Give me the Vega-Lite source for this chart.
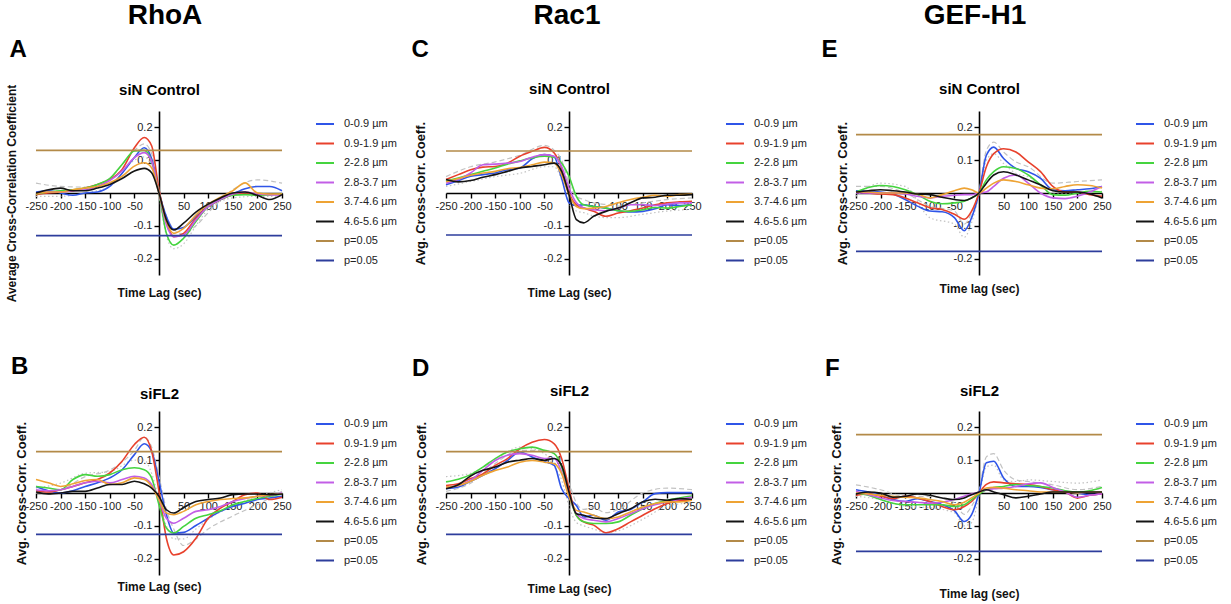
{
"$schema":"https://vega.github.io/schema/vega-lite/v6.json",
"background":"white",
"padding":{"left":5,"top":2,"right":2,"bottom":2},
"config":{
 "font":"Liberation Sans",
 "view":{"stroke":null},
 "axis":{"domainColor":"#000","domainWidth":1.6,"tickColor":"#000","tickWidth":1.4,"tickSize":5,"labelFontSize":11,"labelColor":"#222","labelPadding":2,"titleFontWeight":"bold","titleFontSize":12,"titleColor":"#111","titleBaseline":"middle","grid":false,"labelOverlap":false,"labelFlush":false,"labelBound":false},
 "legend":{"orient":"right","offset":26,"padding":3,"symbolType":"stroke","symbolSize":324,"symbolStrokeWidth":2,"labelFontSize":11,"labelColor":"#222","rowPadding":4.5,"labelOffset":9},
 "title":{"font":"Liberation Sans","fontWeight":"bold","color":"#000","frame":"group","baseline":"alphabetic"}
},
"datasets":{
"A":[
{"s":"0-0.9 µm","t":-250,"v":0.003},{"s":"0-0.9 µm","t":-225,"v":0.007},{"s":"0-0.9 µm","t":-200,"v":0},{"s":"0-0.9 µm","t":-175,"v":-0.007},{"s":"0-0.9 µm","t":-150,"v":0},{"s":"0-0.9 µm","t":-125,"v":0.003},{"s":"0-0.9 µm","t":-100,"v":0.02},{"s":"0-0.9 µm","t":-75,"v":0.06},{"s":"0-0.9 µm","t":-50,"v":0.108},{"s":"0-0.9 µm","t":-30,"v":0.138},{"s":"0-0.9 µm","t":-15,"v":0.105},{"s":"0-0.9 µm","t":0,"v":0.003},{"s":"0-0.9 µm","t":15,"v":-0.072},{"s":"0-0.9 µm","t":30,"v":-0.11},{"s":"0-0.9 µm","t":50,"v":-0.105},{"s":"0-0.9 µm","t":75,"v":-0.072},{"s":"0-0.9 µm","t":100,"v":-0.041},{"s":"0-0.9 µm","t":125,"v":-0.02},{"s":"0-0.9 µm","t":150,"v":-0.003},{"s":"0-0.9 µm","t":175,"v":0.013},{"s":"0-0.9 µm","t":200,"v":0.02},{"s":"0-0.9 µm","t":225,"v":0.02},{"s":"0-0.9 µm","t":250,"v":0.007},
{"s":"0.9-1.9 µm","t":-250,"v":-0.005},{"s":"0.9-1.9 µm","t":-225,"v":0},{"s":"0.9-1.9 µm","t":-200,"v":0.003},{"s":"0.9-1.9 µm","t":-175,"v":0.007},{"s":"0.9-1.9 µm","t":-150,"v":0.015},{"s":"0.9-1.9 µm","t":-125,"v":0.026},{"s":"0.9-1.9 µm","t":-100,"v":0.041},{"s":"0.9-1.9 µm","t":-75,"v":0.072},{"s":"0.9-1.9 µm","t":-50,"v":0.138},{"s":"0.9-1.9 µm","t":-30,"v":0.169},{"s":"0.9-1.9 µm","t":-15,"v":0.144},{"s":"0.9-1.9 µm","t":0,"v":0.01},{"s":"0.9-1.9 µm","t":15,"v":-0.087},{"s":"0.9-1.9 µm","t":30,"v":-0.133},{"s":"0.9-1.9 µm","t":50,"v":-0.123},{"s":"0.9-1.9 µm","t":75,"v":-0.077},{"s":"0.9-1.9 µm","t":100,"v":-0.041},{"s":"0.9-1.9 µm","t":125,"v":-0.02},{"s":"0.9-1.9 µm","t":150,"v":-0.005},{"s":"0.9-1.9 µm","t":175,"v":0},{"s":"0.9-1.9 µm","t":200,"v":-0.003},{"s":"0.9-1.9 µm","t":225,"v":-0.005},{"s":"0.9-1.9 µm","t":250,"v":-0.003},
{"s":"2-2.8 µm","t":-250,"v":-0.003},{"s":"2-2.8 µm","t":-225,"v":0.003},{"s":"2-2.8 µm","t":-200,"v":0.007},{"s":"2-2.8 µm","t":-175,"v":0.01},{"s":"2-2.8 µm","t":-150,"v":0.015},{"s":"2-2.8 µm","t":-125,"v":0.026},{"s":"2-2.8 µm","t":-100,"v":0.044},{"s":"2-2.8 µm","t":-75,"v":0.087},{"s":"2-2.8 µm","t":-50,"v":0.128},{"s":"2-2.8 µm","t":-30,"v":0.13},{"s":"2-2.8 µm","t":-15,"v":0.097},{"s":"2-2.8 µm","t":0,"v":0},{"s":"2-2.8 µm","t":15,"v":-0.123},{"s":"2-2.8 µm","t":30,"v":-0.159},{"s":"2-2.8 µm","t":50,"v":-0.138},{"s":"2-2.8 µm","t":75,"v":-0.087},{"s":"2-2.8 µm","t":100,"v":-0.041},{"s":"2-2.8 µm","t":125,"v":-0.02},{"s":"2-2.8 µm","t":150,"v":-0.007},{"s":"2-2.8 µm","t":175,"v":-0.005},{"s":"2-2.8 µm","t":200,"v":-0.007},{"s":"2-2.8 µm","t":225,"v":-0.005},{"s":"2-2.8 µm","t":250,"v":-0.003},
{"s":"2.8-3.7 µm","t":-250,"v":0},{"s":"2.8-3.7 µm","t":-225,"v":0.003},{"s":"2.8-3.7 µm","t":-200,"v":0.003},{"s":"2.8-3.7 µm","t":-175,"v":0.007},{"s":"2.8-3.7 µm","t":-150,"v":0.01},{"s":"2.8-3.7 µm","t":-125,"v":0.02},{"s":"2.8-3.7 µm","t":-100,"v":0.038},{"s":"2.8-3.7 µm","t":-75,"v":0.067},{"s":"2.8-3.7 µm","t":-50,"v":0.108},{"s":"2.8-3.7 µm","t":-30,"v":0.123},{"s":"2.8-3.7 µm","t":-15,"v":0.097},{"s":"2.8-3.7 µm","t":0,"v":0},{"s":"2.8-3.7 µm","t":15,"v":-0.097},{"s":"2.8-3.7 µm","t":30,"v":-0.133},{"s":"2.8-3.7 µm","t":50,"v":-0.128},{"s":"2.8-3.7 µm","t":75,"v":-0.082},{"s":"2.8-3.7 µm","t":100,"v":-0.041},{"s":"2.8-3.7 µm","t":125,"v":-0.02},{"s":"2.8-3.7 µm","t":150,"v":-0.003},{"s":"2.8-3.7 µm","t":175,"v":0.003},{"s":"2.8-3.7 µm","t":200,"v":-0.003},{"s":"2.8-3.7 µm","t":225,"v":-0.005},{"s":"2.8-3.7 µm","t":250,"v":-0.007},
{"s":"3.7-4.6 µm","t":-250,"v":-0.003},{"s":"3.7-4.6 µm","t":-225,"v":0.003},{"s":"3.7-4.6 µm","t":-200,"v":0.003},{"s":"3.7-4.6 µm","t":-175,"v":0.01},{"s":"3.7-4.6 µm","t":-150,"v":0.015},{"s":"3.7-4.6 µm","t":-125,"v":0.02},{"s":"3.7-4.6 µm","t":-100,"v":0.031},{"s":"3.7-4.6 µm","t":-75,"v":0.051},{"s":"3.7-4.6 µm","t":-50,"v":0.082},{"s":"3.7-4.6 µm","t":-30,"v":0.092},{"s":"3.7-4.6 µm","t":-15,"v":0.077},{"s":"3.7-4.6 µm","t":0,"v":0},{"s":"3.7-4.6 µm","t":15,"v":-0.087},{"s":"3.7-4.6 µm","t":30,"v":-0.123},{"s":"3.7-4.6 µm","t":50,"v":-0.108},{"s":"3.7-4.6 µm","t":75,"v":-0.067},{"s":"3.7-4.6 µm","t":100,"v":-0.034},{"s":"3.7-4.6 µm","t":125,"v":-0.013},{"s":"3.7-4.6 µm","t":150,"v":0.007},{"s":"3.7-4.6 µm","t":175,"v":0.031},{"s":"3.7-4.6 µm","t":200,"v":0},{"s":"3.7-4.6 µm","t":225,"v":-0.003},{"s":"3.7-4.6 µm","t":250,"v":-0.003},
{"s":"4.6-5.6 µm","t":-250,"v":0},{"s":"4.6-5.6 µm","t":-225,"v":0.01},{"s":"4.6-5.6 µm","t":-200,"v":0.015},{"s":"4.6-5.6 µm","t":-175,"v":0.007},{"s":"4.6-5.6 µm","t":-150,"v":0.007},{"s":"4.6-5.6 µm","t":-125,"v":0.015},{"s":"4.6-5.6 µm","t":-100,"v":0.026},{"s":"4.6-5.6 µm","t":-75,"v":0.044},{"s":"4.6-5.6 µm","t":-50,"v":0.067},{"s":"4.6-5.6 µm","t":-30,"v":0.075},{"s":"4.6-5.6 µm","t":-15,"v":0.062},{"s":"4.6-5.6 µm","t":0,"v":0},{"s":"4.6-5.6 µm","t":15,"v":-0.082},{"s":"4.6-5.6 µm","t":30,"v":-0.113},{"s":"4.6-5.6 µm","t":50,"v":-0.092},{"s":"4.6-5.6 µm","t":75,"v":-0.058},{"s":"4.6-5.6 µm","t":100,"v":-0.034},{"s":"4.6-5.6 µm","t":125,"v":-0.015},{"s":"4.6-5.6 µm","t":150,"v":0},{"s":"4.6-5.6 µm","t":175,"v":0.003},{"s":"4.6-5.6 µm","t":200,"v":-0.007},{"s":"4.6-5.6 µm","t":225,"v":-0.02},{"s":"4.6-5.6 µm","t":250,"v":-0.005},
{"s":"p=0.05 upper","t":-250,"v":0.13},{"s":"p=0.05 upper","t":250,"v":0.13},{"s":"p=0.05 lower","t":-250,"v":-0.13},{"s":"p=0.05 lower","t":250,"v":-0.13}
],
"B":[
{"s":"0-0.9 µm","t":-250,"v":0.02},{"s":"0-0.9 µm","t":-225,"v":0.007},{"s":"0-0.9 µm","t":-200,"v":0},{"s":"0-0.9 µm","t":-175,"v":0.007},{"s":"0-0.9 µm","t":-150,"v":0.02},{"s":"0-0.9 µm","t":-125,"v":0.031},{"s":"0-0.9 µm","t":-100,"v":0.046},{"s":"0-0.9 µm","t":-75,"v":0.071},{"s":"0-0.9 µm","t":-50,"v":0.117},{"s":"0-0.9 µm","t":-30,"v":0.15},{"s":"0-0.9 µm","t":-15,"v":0.128},{"s":"0-0.9 µm","t":0,"v":0.036},{"s":"0-0.9 µm","t":15,"v":-0.066},{"s":"0-0.9 µm","t":30,"v":-0.122},{"s":"0-0.9 µm","t":50,"v":-0.12},{"s":"0-0.9 µm","t":75,"v":-0.099},{"s":"0-0.9 µm","t":100,"v":-0.077},{"s":"0-0.9 µm","t":125,"v":-0.056},{"s":"0-0.9 µm","t":150,"v":-0.041},{"s":"0-0.9 µm","t":175,"v":-0.031},{"s":"0-0.9 µm","t":200,"v":-0.02},{"s":"0-0.9 µm","t":225,"v":-0.015},{"s":"0-0.9 µm","t":250,"v":-0.01},
{"s":"0.9-1.9 µm","t":-250,"v":0.007},{"s":"0.9-1.9 µm","t":-225,"v":0.003},{"s":"0.9-1.9 µm","t":-200,"v":0.01},{"s":"0.9-1.9 µm","t":-175,"v":0.02},{"s":"0.9-1.9 µm","t":-150,"v":0.031},{"s":"0.9-1.9 µm","t":-125,"v":0.041},{"s":"0.9-1.9 µm","t":-100,"v":0.061},{"s":"0.9-1.9 µm","t":-75,"v":0.097},{"s":"0.9-1.9 µm","t":-50,"v":0.148},{"s":"0.9-1.9 µm","t":-30,"v":0.17},{"s":"0.9-1.9 µm","t":-15,"v":0.128},{"s":"0.9-1.9 µm","t":0,"v":0.005},{"s":"0.9-1.9 µm","t":15,"v":-0.138},{"s":"0.9-1.9 µm","t":30,"v":-0.189},{"s":"0.9-1.9 µm","t":50,"v":-0.179},{"s":"0.9-1.9 µm","t":75,"v":-0.138},{"s":"0.9-1.9 µm","t":100,"v":-0.077},{"s":"0.9-1.9 µm","t":125,"v":-0.046},{"s":"0.9-1.9 µm","t":150,"v":-0.026},{"s":"0.9-1.9 µm","t":175,"v":-0.005},{"s":"0.9-1.9 µm","t":200,"v":0},{"s":"0.9-1.9 µm","t":225,"v":-0.02},{"s":"0.9-1.9 µm","t":250,"v":-0.013},
{"s":"2-2.8 µm","t":-250,"v":0.02},{"s":"2-2.8 µm","t":-225,"v":0.015},{"s":"2-2.8 µm","t":-200,"v":0.01},{"s":"2-2.8 µm","t":-175,"v":0.041},{"s":"2-2.8 µm","t":-150,"v":0.056},{"s":"2-2.8 µm","t":-125,"v":0.051},{"s":"2-2.8 µm","t":-100,"v":0.056},{"s":"2-2.8 µm","t":-75,"v":0.071},{"s":"2-2.8 µm","t":-50,"v":0.077},{"s":"2-2.8 µm","t":-30,"v":0.071},{"s":"2-2.8 µm","t":-15,"v":0.046},{"s":"2-2.8 µm","t":0,"v":-0.036},{"s":"2-2.8 µm","t":15,"v":-0.107},{"s":"2-2.8 µm","t":30,"v":-0.122},{"s":"2-2.8 µm","t":50,"v":-0.102},{"s":"2-2.8 µm","t":75,"v":-0.077},{"s":"2-2.8 µm","t":100,"v":-0.066},{"s":"2-2.8 µm","t":125,"v":-0.054},{"s":"2-2.8 µm","t":150,"v":-0.036},{"s":"2-2.8 µm","t":175,"v":-0.026},{"s":"2-2.8 µm","t":200,"v":-0.017},{"s":"2-2.8 µm","t":225,"v":-0.01},{"s":"2-2.8 µm","t":250,"v":-0.003},
{"s":"2.8-3.7 µm","t":-250,"v":0.01},{"s":"2.8-3.7 µm","t":-225,"v":0.007},{"s":"2.8-3.7 µm","t":-200,"v":0.01},{"s":"2.8-3.7 µm","t":-175,"v":0.02},{"s":"2.8-3.7 µm","t":-150,"v":0.031},{"s":"2.8-3.7 µm","t":-125,"v":0.036},{"s":"2.8-3.7 µm","t":-100,"v":0.031},{"s":"2.8-3.7 µm","t":-75,"v":0.041},{"s":"2.8-3.7 µm","t":-50,"v":0.051},{"s":"2.8-3.7 µm","t":-30,"v":0.046},{"s":"2.8-3.7 µm","t":-15,"v":0.026},{"s":"2.8-3.7 µm","t":0,"v":-0.02},{"s":"2.8-3.7 µm","t":15,"v":-0.077},{"s":"2.8-3.7 µm","t":30,"v":-0.092},{"s":"2.8-3.7 µm","t":50,"v":-0.077},{"s":"2.8-3.7 µm","t":75,"v":-0.056},{"s":"2.8-3.7 µm","t":100,"v":-0.051},{"s":"2.8-3.7 µm","t":125,"v":-0.041},{"s":"2.8-3.7 µm","t":150,"v":-0.026},{"s":"2.8-3.7 µm","t":175,"v":-0.017},{"s":"2.8-3.7 µm","t":200,"v":-0.01},{"s":"2.8-3.7 µm","t":225,"v":-0.007},{"s":"2.8-3.7 µm","t":250,"v":0},
{"s":"3.7-4.6 µm","t":-250,"v":0.041},{"s":"3.7-4.6 µm","t":-225,"v":0.031},{"s":"3.7-4.6 µm","t":-200,"v":0.02},{"s":"3.7-4.6 µm","t":-175,"v":0.028},{"s":"3.7-4.6 µm","t":-150,"v":0.038},{"s":"3.7-4.6 µm","t":-125,"v":0.041},{"s":"3.7-4.6 µm","t":-100,"v":0.026},{"s":"3.7-4.6 µm","t":-75,"v":0.031},{"s":"3.7-4.6 µm","t":-50,"v":0.046},{"s":"3.7-4.6 µm","t":-30,"v":0.041},{"s":"3.7-4.6 µm","t":-15,"v":0.02},{"s":"3.7-4.6 µm","t":0,"v":-0.02},{"s":"3.7-4.6 µm","t":15,"v":-0.061},{"s":"3.7-4.6 µm","t":30,"v":-0.066},{"s":"3.7-4.6 µm","t":50,"v":-0.056},{"s":"3.7-4.6 µm","t":75,"v":-0.036},{"s":"3.7-4.6 µm","t":100,"v":-0.026},{"s":"3.7-4.6 µm","t":125,"v":-0.02},{"s":"3.7-4.6 µm","t":150,"v":-0.017},{"s":"3.7-4.6 µm","t":175,"v":-0.015},{"s":"3.7-4.6 µm","t":200,"v":-0.01},{"s":"3.7-4.6 µm","t":225,"v":-0.005},{"s":"3.7-4.6 µm","t":250,"v":-0.003},
{"s":"4.6-5.6 µm","t":-250,"v":0.003},{"s":"4.6-5.6 µm","t":-225,"v":-0.003},{"s":"4.6-5.6 µm","t":-200,"v":0},{"s":"4.6-5.6 µm","t":-175,"v":0.005},{"s":"4.6-5.6 µm","t":-150,"v":0.005},{"s":"4.6-5.6 µm","t":-125,"v":0.015},{"s":"4.6-5.6 µm","t":-100,"v":0.026},{"s":"4.6-5.6 µm","t":-75,"v":0.026},{"s":"4.6-5.6 µm","t":-50,"v":0.036},{"s":"4.6-5.6 µm","t":-30,"v":0.028},{"s":"4.6-5.6 µm","t":-15,"v":0.015},{"s":"4.6-5.6 µm","t":0,"v":-0.01},{"s":"4.6-5.6 µm","t":15,"v":-0.051},{"s":"4.6-5.6 µm","t":30,"v":-0.061},{"s":"4.6-5.6 µm","t":50,"v":-0.044},{"s":"4.6-5.6 µm","t":75,"v":-0.026},{"s":"4.6-5.6 µm","t":100,"v":-0.02},{"s":"4.6-5.6 µm","t":125,"v":-0.015},{"s":"4.6-5.6 µm","t":150,"v":-0.005},{"s":"4.6-5.6 µm","t":175,"v":-0.003},{"s":"4.6-5.6 µm","t":200,"v":-0.003},{"s":"4.6-5.6 µm","t":225,"v":-0.005},{"s":"4.6-5.6 µm","t":250,"v":-0.003},
{"s":"p=0.05 upper","t":-250,"v":0.126},{"s":"p=0.05 upper","t":250,"v":0.126},{"s":"p=0.05 lower","t":-250,"v":-0.126},{"s":"p=0.05 lower","t":250,"v":-0.126}
],
"C":[
{"s":"0-0.9 µm","t":-250,"v":0.025},{"s":"0-0.9 µm","t":-225,"v":0.038},{"s":"0-0.9 µm","t":-200,"v":0.051},{"s":"0-0.9 µm","t":-175,"v":0.056},{"s":"0-0.9 µm","t":-150,"v":0.061},{"s":"0-0.9 µm","t":-125,"v":0.071},{"s":"0-0.9 µm","t":-100,"v":0.076},{"s":"0-0.9 µm","t":-75,"v":0.104},{"s":"0-0.9 µm","t":-50,"v":0.117},{"s":"0-0.9 µm","t":-30,"v":0.11},{"s":"0-0.9 µm","t":-15,"v":0.045},{"s":"0-0.9 µm","t":0,"v":-0.03},{"s":"0-0.9 µm","t":15,"v":-0.038},{"s":"0-0.9 µm","t":30,"v":-0.036},{"s":"0-0.9 µm","t":50,"v":-0.041},{"s":"0-0.9 µm","t":75,"v":-0.046},{"s":"0-0.9 µm","t":100,"v":-0.054},{"s":"0-0.9 µm","t":125,"v":-0.058},{"s":"0-0.9 µm","t":150,"v":-0.056},{"s":"0-0.9 µm","t":175,"v":-0.048},{"s":"0-0.9 µm","t":200,"v":-0.036},{"s":"0-0.9 µm","t":225,"v":-0.038},{"s":"0-0.9 µm","t":250,"v":-0.036},
{"s":"0.9-1.9 µm","t":-250,"v":0.041},{"s":"0.9-1.9 µm","t":-225,"v":0.056},{"s":"0.9-1.9 µm","t":-200,"v":0.071},{"s":"0.9-1.9 µm","t":-175,"v":0.079},{"s":"0.9-1.9 µm","t":-150,"v":0.081},{"s":"0.9-1.9 µm","t":-125,"v":0.091},{"s":"0.9-1.9 µm","t":-100,"v":0.112},{"s":"0.9-1.9 µm","t":-75,"v":0.127},{"s":"0.9-1.9 µm","t":-50,"v":0.139},{"s":"0.9-1.9 µm","t":-30,"v":0.122},{"s":"0.9-1.9 µm","t":-15,"v":0.076},{"s":"0.9-1.9 µm","t":0,"v":0},{"s":"0.9-1.9 µm","t":15,"v":-0.036},{"s":"0.9-1.9 µm","t":30,"v":-0.046},{"s":"0.9-1.9 µm","t":50,"v":-0.056},{"s":"0.9-1.9 µm","t":75,"v":-0.071},{"s":"0.9-1.9 µm","t":100,"v":-0.061},{"s":"0.9-1.9 µm","t":125,"v":-0.054},{"s":"0.9-1.9 µm","t":150,"v":-0.046},{"s":"0.9-1.9 µm","t":175,"v":-0.036},{"s":"0.9-1.9 µm","t":200,"v":-0.03},{"s":"0.9-1.9 µm","t":225,"v":-0.027},{"s":"0.9-1.9 µm","t":250,"v":-0.025},
{"s":"2-2.8 µm","t":-250,"v":0.036},{"s":"2-2.8 µm","t":-225,"v":0.046},{"s":"2-2.8 µm","t":-200,"v":0.056},{"s":"2-2.8 µm","t":-175,"v":0.066},{"s":"2-2.8 µm","t":-150,"v":0.076},{"s":"2-2.8 µm","t":-125,"v":0.088},{"s":"2-2.8 µm","t":-100,"v":0.098},{"s":"2-2.8 µm","t":-75,"v":0.107},{"s":"2-2.8 µm","t":-50,"v":0.112},{"s":"2-2.8 µm","t":-30,"v":0.109},{"s":"2-2.8 µm","t":-15,"v":0.091},{"s":"2-2.8 µm","t":0,"v":0.051},{"s":"2-2.8 µm","t":15,"v":-0.01},{"s":"2-2.8 µm","t":30,"v":-0.036},{"s":"2-2.8 µm","t":50,"v":-0.041},{"s":"2-2.8 µm","t":75,"v":-0.046},{"s":"2-2.8 µm","t":100,"v":-0.054},{"s":"2-2.8 µm","t":125,"v":-0.056},{"s":"2-2.8 µm","t":150,"v":-0.051},{"s":"2-2.8 µm","t":175,"v":-0.044},{"s":"2-2.8 µm","t":200,"v":-0.046},{"s":"2-2.8 µm","t":225,"v":-0.041},{"s":"2-2.8 µm","t":250,"v":-0.036},
{"s":"2.8-3.7 µm","t":-250,"v":0.03},{"s":"2.8-3.7 µm","t":-225,"v":0.041},{"s":"2.8-3.7 µm","t":-200,"v":0.061},{"s":"2.8-3.7 µm","t":-175,"v":0.086},{"s":"2.8-3.7 µm","t":-150,"v":0.088},{"s":"2.8-3.7 µm","t":-125,"v":0.091},{"s":"2.8-3.7 µm","t":-100,"v":0.096},{"s":"2.8-3.7 µm","t":-75,"v":0.109},{"s":"2.8-3.7 µm","t":-50,"v":0.117},{"s":"2.8-3.7 µm","t":-30,"v":0.112},{"s":"2.8-3.7 µm","t":-15,"v":0.081},{"s":"2.8-3.7 µm","t":0,"v":0.015},{"s":"2.8-3.7 µm","t":15,"v":-0.03},{"s":"2.8-3.7 µm","t":30,"v":-0.046},{"s":"2.8-3.7 µm","t":50,"v":-0.051},{"s":"2.8-3.7 µm","t":75,"v":-0.054},{"s":"2.8-3.7 µm","t":100,"v":-0.046},{"s":"2.8-3.7 µm","t":125,"v":-0.036},{"s":"2.8-3.7 µm","t":150,"v":-0.036},{"s":"2.8-3.7 µm","t":175,"v":-0.038},{"s":"2.8-3.7 µm","t":200,"v":-0.034},{"s":"2.8-3.7 µm","t":225,"v":-0.03},{"s":"2.8-3.7 µm","t":250,"v":-0.03},
{"s":"3.7-4.6 µm","t":-250,"v":0.034},{"s":"3.7-4.6 µm","t":-225,"v":0.044},{"s":"3.7-4.6 µm","t":-200,"v":0.054},{"s":"3.7-4.6 µm","t":-175,"v":0.061},{"s":"3.7-4.6 µm","t":-150,"v":0.066},{"s":"3.7-4.6 µm","t":-125,"v":0.074},{"s":"3.7-4.6 µm","t":-100,"v":0.078},{"s":"3.7-4.6 µm","t":-75,"v":0.086},{"s":"3.7-4.6 µm","t":-50,"v":0.094},{"s":"3.7-4.6 µm","t":-30,"v":0.091},{"s":"3.7-4.6 µm","t":-15,"v":0.056},{"s":"3.7-4.6 µm","t":0,"v":-0.005},{"s":"3.7-4.6 µm","t":15,"v":-0.041},{"s":"3.7-4.6 µm","t":30,"v":-0.048},{"s":"3.7-4.6 µm","t":50,"v":-0.046},{"s":"3.7-4.6 µm","t":75,"v":-0.041},{"s":"3.7-4.6 µm","t":100,"v":-0.03},{"s":"3.7-4.6 µm","t":125,"v":-0.02},{"s":"3.7-4.6 µm","t":150,"v":-0.013},{"s":"3.7-4.6 µm","t":175,"v":-0.007},{"s":"3.7-4.6 µm","t":200,"v":-0.01},{"s":"3.7-4.6 µm","t":225,"v":-0.005},{"s":"3.7-4.6 µm","t":250,"v":-0.003},
{"s":"4.6-5.6 µm","t":-250,"v":0.041},{"s":"4.6-5.6 µm","t":-225,"v":0.034},{"s":"4.6-5.6 µm","t":-200,"v":0.038},{"s":"4.6-5.6 µm","t":-175,"v":0.048},{"s":"4.6-5.6 µm","t":-150,"v":0.056},{"s":"4.6-5.6 µm","t":-125,"v":0.066},{"s":"4.6-5.6 µm","t":-100,"v":0.076},{"s":"4.6-5.6 µm","t":-75,"v":0.081},{"s":"4.6-5.6 µm","t":-50,"v":0.086},{"s":"4.6-5.6 µm","t":-30,"v":0.091},{"s":"4.6-5.6 µm","t":-15,"v":0.066},{"s":"4.6-5.6 µm","t":0,"v":-0.005},{"s":"4.6-5.6 µm","t":15,"v":-0.081},{"s":"4.6-5.6 µm","t":30,"v":-0.091},{"s":"4.6-5.6 µm","t":50,"v":-0.071},{"s":"4.6-5.6 µm","t":75,"v":-0.056},{"s":"4.6-5.6 µm","t":100,"v":-0.046},{"s":"4.6-5.6 µm","t":125,"v":-0.03},{"s":"4.6-5.6 µm","t":150,"v":-0.015},{"s":"4.6-5.6 µm","t":175,"v":-0.013},{"s":"4.6-5.6 µm","t":200,"v":-0.007},{"s":"4.6-5.6 µm","t":225,"v":-0.007},{"s":"4.6-5.6 µm","t":250,"v":-0.005},
{"s":"p=0.05 upper","t":-250,"v":0.128},{"s":"p=0.05 upper","t":250,"v":0.128},{"s":"p=0.05 lower","t":-250,"v":-0.128},{"s":"p=0.05 lower","t":250,"v":-0.128}
],
"D":[
{"s":"0-0.9 µm","t":-250,"v":0.013},{"s":"0-0.9 µm","t":-225,"v":0.018},{"s":"0-0.9 µm","t":-200,"v":0.036},{"s":"0-0.9 µm","t":-175,"v":0.054},{"s":"0-0.9 µm","t":-150,"v":0.074},{"s":"0-0.9 µm","t":-125,"v":0.099},{"s":"0-0.9 µm","t":-100,"v":0.125},{"s":"0-0.9 µm","t":-75,"v":0.11},{"s":"0-0.9 µm","t":-50,"v":0.096},{"s":"0-0.9 µm","t":-30,"v":0.084},{"s":"0-0.9 µm","t":-15,"v":0.013},{"s":"0-0.9 µm","t":0,"v":-0.017},{"s":"0-0.9 µm","t":15,"v":-0.038},{"s":"0-0.9 µm","t":30,"v":-0.073},{"s":"0-0.9 µm","t":50,"v":-0.068},{"s":"0-0.9 µm","t":75,"v":-0.083},{"s":"0-0.9 µm","t":100,"v":-0.058},{"s":"0-0.9 µm","t":125,"v":-0.05},{"s":"0-0.9 µm","t":150,"v":-0.027},{"s":"0-0.9 µm","t":175,"v":-0.002},{"s":"0-0.9 µm","t":200,"v":0.001},{"s":"0-0.9 µm","t":225,"v":0.001},{"s":"0-0.9 µm","t":250,"v":0.001},
{"s":"0.9-1.9 µm","t":-250,"v":0.023},{"s":"0.9-1.9 µm","t":-225,"v":0.028},{"s":"0.9-1.9 µm","t":-200,"v":0.044},{"s":"0.9-1.9 µm","t":-175,"v":0.058},{"s":"0.9-1.9 µm","t":-150,"v":0.084},{"s":"0.9-1.9 µm","t":-125,"v":0.105},{"s":"0.9-1.9 µm","t":-100,"v":0.135},{"s":"0.9-1.9 µm","t":-75,"v":0.155},{"s":"0.9-1.9 µm","t":-50,"v":0.163},{"s":"0.9-1.9 µm","t":-30,"v":0.15},{"s":"0.9-1.9 µm","t":-15,"v":0.105},{"s":"0.9-1.9 µm","t":0,"v":0.013},{"s":"0.9-1.9 µm","t":15,"v":-0.068},{"s":"0.9-1.9 µm","t":30,"v":-0.088},{"s":"0.9-1.9 µm","t":50,"v":-0.098},{"s":"0.9-1.9 µm","t":75,"v":-0.121},{"s":"0.9-1.9 µm","t":100,"v":-0.109},{"s":"0.9-1.9 µm","t":125,"v":-0.088},{"s":"0.9-1.9 µm","t":150,"v":-0.068},{"s":"0.9-1.9 µm","t":175,"v":-0.048},{"s":"0.9-1.9 µm","t":200,"v":-0.032},{"s":"0.9-1.9 µm","t":225,"v":-0.022},{"s":"0.9-1.9 µm","t":250,"v":-0.022},
{"s":"2-2.8 µm","t":-250,"v":0.034},{"s":"2-2.8 µm","t":-225,"v":0.042},{"s":"2-2.8 µm","t":-200,"v":0.056},{"s":"2-2.8 µm","t":-175,"v":0.079},{"s":"2-2.8 µm","t":-150,"v":0.105},{"s":"2-2.8 µm","t":-125,"v":0.125},{"s":"2-2.8 µm","t":-100,"v":0.135},{"s":"2-2.8 µm","t":-75,"v":0.14},{"s":"2-2.8 µm","t":-50,"v":0.13},{"s":"2-2.8 µm","t":-30,"v":0.12},{"s":"2-2.8 µm","t":-15,"v":0.079},{"s":"2-2.8 µm","t":0,"v":-0.007},{"s":"2-2.8 µm","t":15,"v":-0.068},{"s":"2-2.8 µm","t":30,"v":-0.088},{"s":"2-2.8 µm","t":50,"v":-0.093},{"s":"2-2.8 µm","t":75,"v":-0.093},{"s":"2-2.8 µm","t":100,"v":-0.088},{"s":"2-2.8 µm","t":125,"v":-0.068},{"s":"2-2.8 µm","t":150,"v":-0.048},{"s":"2-2.8 µm","t":175,"v":-0.032},{"s":"2-2.8 µm","t":200,"v":-0.022},{"s":"2-2.8 µm","t":225,"v":-0.015},{"s":"2-2.8 µm","t":250,"v":-0.009},
{"s":"2.8-3.7 µm","t":-250,"v":0.018},{"s":"2.8-3.7 µm","t":-225,"v":0.023},{"s":"2.8-3.7 µm","t":-200,"v":0.039},{"s":"2.8-3.7 µm","t":-175,"v":0.069},{"s":"2.8-3.7 µm","t":-150,"v":0.099},{"s":"2.8-3.7 µm","t":-125,"v":0.115},{"s":"2.8-3.7 µm","t":-100,"v":0.12},{"s":"2.8-3.7 µm","t":-75,"v":0.115},{"s":"2.8-3.7 µm","t":-50,"v":0.105},{"s":"2.8-3.7 µm","t":-30,"v":0.105},{"s":"2.8-3.7 µm","t":-15,"v":0.064},{"s":"2.8-3.7 µm","t":0,"v":-0.007},{"s":"2.8-3.7 µm","t":15,"v":-0.063},{"s":"2.8-3.7 µm","t":30,"v":-0.078},{"s":"2.8-3.7 µm","t":50,"v":-0.083},{"s":"2.8-3.7 µm","t":75,"v":-0.088},{"s":"2.8-3.7 µm","t":100,"v":-0.078},{"s":"2.8-3.7 µm","t":125,"v":-0.063},{"s":"2.8-3.7 µm","t":150,"v":-0.048},{"s":"2.8-3.7 µm","t":175,"v":-0.036},{"s":"2.8-3.7 µm","t":200,"v":-0.027},{"s":"2.8-3.7 µm","t":225,"v":-0.019},{"s":"2.8-3.7 µm","t":250,"v":-0.012},
{"s":"3.7-4.6 µm","t":-250,"v":0.018},{"s":"3.7-4.6 µm","t":-225,"v":0.023},{"s":"3.7-4.6 µm","t":-200,"v":0.036},{"s":"3.7-4.6 µm","t":-175,"v":0.054},{"s":"3.7-4.6 µm","t":-150,"v":0.069},{"s":"3.7-4.6 µm","t":-125,"v":0.079},{"s":"3.7-4.6 µm","t":-100,"v":0.094},{"s":"3.7-4.6 µm","t":-75,"v":0.099},{"s":"3.7-4.6 µm","t":-50,"v":0.094},{"s":"3.7-4.6 µm","t":-30,"v":0.089},{"s":"3.7-4.6 µm","t":-15,"v":0.059},{"s":"3.7-4.6 µm","t":0,"v":-0.012},{"s":"3.7-4.6 µm","t":15,"v":-0.053},{"s":"3.7-4.6 µm","t":30,"v":-0.058},{"s":"3.7-4.6 µm","t":50,"v":-0.068},{"s":"3.7-4.6 µm","t":75,"v":-0.078},{"s":"3.7-4.6 µm","t":100,"v":-0.073},{"s":"3.7-4.6 µm","t":125,"v":-0.058},{"s":"3.7-4.6 µm","t":150,"v":-0.043},{"s":"3.7-4.6 µm","t":175,"v":-0.032},{"s":"3.7-4.6 µm","t":200,"v":-0.027},{"s":"3.7-4.6 µm","t":225,"v":-0.027},{"s":"3.7-4.6 µm","t":250,"v":-0.022},
{"s":"4.6-5.6 µm","t":-250,"v":0.013},{"s":"4.6-5.6 µm","t":-225,"v":0.025},{"s":"4.6-5.6 µm","t":-200,"v":0.052},{"s":"4.6-5.6 µm","t":-175,"v":0.069},{"s":"4.6-5.6 µm","t":-150,"v":0.079},{"s":"4.6-5.6 µm","t":-125,"v":0.094},{"s":"4.6-5.6 µm","t":-100,"v":0.1},{"s":"4.6-5.6 µm","t":-75,"v":0.105},{"s":"4.6-5.6 µm","t":-50,"v":0.1},{"s":"4.6-5.6 µm","t":-30,"v":0.105},{"s":"4.6-5.6 µm","t":-15,"v":0.084},{"s":"4.6-5.6 µm","t":0,"v":0.003},{"s":"4.6-5.6 µm","t":15,"v":-0.063},{"s":"4.6-5.6 µm","t":30,"v":-0.068},{"s":"4.6-5.6 µm","t":50,"v":-0.076},{"s":"4.6-5.6 µm","t":75,"v":-0.078},{"s":"4.6-5.6 µm","t":100,"v":-0.063},{"s":"4.6-5.6 µm","t":125,"v":-0.048},{"s":"4.6-5.6 µm","t":150,"v":-0.027},{"s":"4.6-5.6 µm","t":175,"v":-0.019},{"s":"4.6-5.6 µm","t":200,"v":-0.022},{"s":"4.6-5.6 µm","t":225,"v":-0.017},{"s":"4.6-5.6 µm","t":250,"v":-0.019},
{"s":"p=0.05 upper","t":-250,"v":0.126},{"s":"p=0.05 upper","t":250,"v":0.126},{"s":"p=0.05 lower","t":-250,"v":-0.126},{"s":"p=0.05 lower","t":250,"v":-0.126}
],
"E":[
{"s":"0-0.9 µm","t":-250,"v":0.007},{"s":"0-0.9 µm","t":-225,"v":0.005},{"s":"0-0.9 µm","t":-200,"v":0.003},{"s":"0-0.9 µm","t":-175,"v":-0.003},{"s":"0-0.9 µm","t":-150,"v":-0.02},{"s":"0-0.9 µm","t":-125,"v":-0.04},{"s":"0-0.9 µm","t":-100,"v":-0.055},{"s":"0-0.9 µm","t":-75,"v":-0.057},{"s":"0-0.9 µm","t":-50,"v":-0.075},{"s":"0-0.9 µm","t":-30,"v":-0.115},{"s":"0-0.9 µm","t":-15,"v":-0.075},{"s":"0-0.9 µm","t":0,"v":0},{"s":"0-0.9 µm","t":15,"v":0.115},{"s":"0-0.9 µm","t":30,"v":0.14},{"s":"0-0.9 µm","t":50,"v":0.105},{"s":"0-0.9 µm","t":75,"v":0.075},{"s":"0-0.9 µm","t":100,"v":0.065},{"s":"0-0.9 µm","t":125,"v":0.045},{"s":"0-0.9 µm","t":150,"v":0.01},{"s":"0-0.9 µm","t":175,"v":0.007},{"s":"0-0.9 µm","t":200,"v":0.01},{"s":"0-0.9 µm","t":225,"v":0.013},{"s":"0-0.9 µm","t":250,"v":0.02},
{"s":"0.9-1.9 µm","t":-250,"v":0.003},{"s":"0.9-1.9 µm","t":-225,"v":0},{"s":"0.9-1.9 µm","t":-200,"v":-0.003},{"s":"0.9-1.9 µm","t":-175,"v":-0.005},{"s":"0.9-1.9 µm","t":-150,"v":-0.015},{"s":"0.9-1.9 µm","t":-125,"v":-0.03},{"s":"0.9-1.9 µm","t":-100,"v":-0.045},{"s":"0.9-1.9 µm","t":-75,"v":-0.05},{"s":"0.9-1.9 µm","t":-50,"v":-0.065},{"s":"0.9-1.9 µm","t":-30,"v":-0.08},{"s":"0.9-1.9 µm","t":-15,"v":-0.055},{"s":"0.9-1.9 µm","t":0,"v":0},{"s":"0.9-1.9 µm","t":15,"v":0.08},{"s":"0.9-1.9 µm","t":30,"v":0.12},{"s":"0.9-1.9 µm","t":50,"v":0.135},{"s":"0.9-1.9 µm","t":75,"v":0.125},{"s":"0.9-1.9 µm","t":100,"v":0.095},{"s":"0.9-1.9 µm","t":125,"v":0.065},{"s":"0.9-1.9 µm","t":150,"v":0.02},{"s":"0.9-1.9 µm","t":175,"v":0.003},{"s":"0.9-1.9 µm","t":200,"v":0.003},{"s":"0.9-1.9 µm","t":225,"v":-0.005},{"s":"0.9-1.9 µm","t":250,"v":-0.01},
{"s":"2-2.8 µm","t":-250,"v":0.003},{"s":"2-2.8 µm","t":-225,"v":0.017},{"s":"2-2.8 µm","t":-200,"v":0.023},{"s":"2-2.8 µm","t":-175,"v":0.02},{"s":"2-2.8 µm","t":-150,"v":0.01},{"s":"2-2.8 µm","t":-125,"v":-0.005},{"s":"2-2.8 µm","t":-100,"v":-0.025},{"s":"2-2.8 µm","t":-75,"v":-0.033},{"s":"2-2.8 µm","t":-50,"v":-0.03},{"s":"2-2.8 µm","t":-30,"v":-0.025},{"s":"2-2.8 µm","t":-15,"v":-0.015},{"s":"2-2.8 µm","t":0,"v":0},{"s":"2-2.8 µm","t":15,"v":0.04},{"s":"2-2.8 µm","t":30,"v":0.065},{"s":"2-2.8 µm","t":50,"v":0.08},{"s":"2-2.8 µm","t":75,"v":0.075},{"s":"2-2.8 µm","t":100,"v":0.055},{"s":"2-2.8 µm","t":125,"v":0.025},{"s":"2-2.8 µm","t":150,"v":-0.005},{"s":"2-2.8 µm","t":175,"v":-0.007},{"s":"2-2.8 µm","t":200,"v":0},{"s":"2-2.8 µm","t":225,"v":0.005},{"s":"2-2.8 µm","t":250,"v":0.003},
{"s":"2.8-3.7 µm","t":-250,"v":0},{"s":"2.8-3.7 µm","t":-225,"v":0},{"s":"2.8-3.7 µm","t":-200,"v":0},{"s":"2.8-3.7 µm","t":-175,"v":0},{"s":"2.8-3.7 µm","t":-150,"v":-0.003},{"s":"2.8-3.7 µm","t":-125,"v":-0.01},{"s":"2.8-3.7 µm","t":-100,"v":-0.015},{"s":"2.8-3.7 µm","t":-75,"v":-0.01},{"s":"2.8-3.7 µm","t":-50,"v":-0.007},{"s":"2.8-3.7 µm","t":-30,"v":-0.005},{"s":"2.8-3.7 µm","t":-15,"v":-0.005},{"s":"2.8-3.7 µm","t":0,"v":0},{"s":"2.8-3.7 µm","t":15,"v":0.003},{"s":"2.8-3.7 µm","t":30,"v":0.02},{"s":"2.8-3.7 µm","t":50,"v":0.045},{"s":"2.8-3.7 µm","t":75,"v":0.055},{"s":"2.8-3.7 µm","t":100,"v":0.03},{"s":"2.8-3.7 µm","t":125,"v":0},{"s":"2.8-3.7 µm","t":150,"v":-0.015},{"s":"2.8-3.7 µm","t":175,"v":-0.017},{"s":"2.8-3.7 µm","t":200,"v":-0.01},{"s":"2.8-3.7 µm","t":225,"v":0.003},{"s":"2.8-3.7 µm","t":250,"v":0.02},
{"s":"3.7-4.6 µm","t":-250,"v":0.003},{"s":"3.7-4.6 µm","t":-225,"v":0.003},{"s":"3.7-4.6 µm","t":-200,"v":0},{"s":"3.7-4.6 µm","t":-175,"v":0},{"s":"3.7-4.6 µm","t":-150,"v":0},{"s":"3.7-4.6 µm","t":-125,"v":-0.003},{"s":"3.7-4.6 µm","t":-100,"v":-0.015},{"s":"3.7-4.6 µm","t":-75,"v":-0.005},{"s":"3.7-4.6 µm","t":-50,"v":0.007},{"s":"3.7-4.6 µm","t":-30,"v":0.015},{"s":"3.7-4.6 µm","t":-15,"v":0.01},{"s":"3.7-4.6 µm","t":0,"v":0},{"s":"3.7-4.6 µm","t":15,"v":0.015},{"s":"3.7-4.6 µm","t":30,"v":0.03},{"s":"3.7-4.6 µm","t":50,"v":0.04},{"s":"3.7-4.6 µm","t":75,"v":0.035},{"s":"3.7-4.6 µm","t":100,"v":0.025},{"s":"3.7-4.6 µm","t":125,"v":0.015},{"s":"3.7-4.6 µm","t":150,"v":0.013},{"s":"3.7-4.6 µm","t":175,"v":0.02},{"s":"3.7-4.6 µm","t":200,"v":0.025},{"s":"3.7-4.6 µm","t":225,"v":0.023},{"s":"3.7-4.6 µm","t":250,"v":0.015},
{"s":"4.6-5.6 µm","t":-250,"v":0.003},{"s":"4.6-5.6 µm","t":-225,"v":0.007},{"s":"4.6-5.6 µm","t":-200,"v":0.01},{"s":"4.6-5.6 µm","t":-175,"v":0.007},{"s":"4.6-5.6 µm","t":-150,"v":0.003},{"s":"4.6-5.6 µm","t":-125,"v":-0.003},{"s":"4.6-5.6 µm","t":-100,"v":-0.005},{"s":"4.6-5.6 µm","t":-75,"v":-0.013},{"s":"4.6-5.6 µm","t":-50,"v":-0.02},{"s":"4.6-5.6 µm","t":-30,"v":-0.023},{"s":"4.6-5.6 µm","t":-15,"v":-0.015},{"s":"4.6-5.6 µm","t":0,"v":0},{"s":"4.6-5.6 µm","t":15,"v":0.03},{"s":"4.6-5.6 µm","t":30,"v":0.055},{"s":"4.6-5.6 µm","t":50,"v":0.065},{"s":"4.6-5.6 µm","t":75,"v":0.055},{"s":"4.6-5.6 µm","t":100,"v":0.04},{"s":"4.6-5.6 µm","t":125,"v":0.025},{"s":"4.6-5.6 µm","t":150,"v":0.007},{"s":"4.6-5.6 µm","t":175,"v":0.003},{"s":"4.6-5.6 µm","t":200,"v":0.003},{"s":"4.6-5.6 µm","t":225,"v":-0.003},{"s":"4.6-5.6 µm","t":250,"v":-0.015},
{"s":"p=0.05 upper","t":-250,"v":0.178},{"s":"p=0.05 upper","t":250,"v":0.178},{"s":"p=0.05 lower","t":-250,"v":-0.178},{"s":"p=0.05 lower","t":250,"v":-0.178}
],
"F":[
{"s":"0-0.9 µm","t":-250,"v":0.01},{"s":"0-0.9 µm","t":-225,"v":0.003},{"s":"0-0.9 µm","t":-200,"v":-0.007},{"s":"0-0.9 µm","t":-175,"v":-0.02},{"s":"0-0.9 µm","t":-150,"v":-0.026},{"s":"0-0.9 µm","t":-125,"v":-0.017},{"s":"0-0.9 µm","t":-100,"v":-0.026},{"s":"0-0.9 µm","t":-75,"v":-0.036},{"s":"0-0.9 µm","t":-50,"v":-0.054},{"s":"0-0.9 µm","t":-30,"v":-0.087},{"s":"0-0.9 µm","t":-15,"v":-0.066},{"s":"0-0.9 µm","t":0,"v":0},{"s":"0-0.9 µm","t":15,"v":0.092},{"s":"0-0.9 µm","t":30,"v":0.097},{"s":"0-0.9 µm","t":50,"v":0.046},{"s":"0-0.9 µm","t":75,"v":0.02},{"s":"0-0.9 µm","t":100,"v":0.02},{"s":"0-0.9 µm","t":125,"v":0.017},{"s":"0-0.9 µm","t":150,"v":0.01},{"s":"0-0.9 µm","t":175,"v":0.005},{"s":"0-0.9 µm","t":200,"v":0},{"s":"0-0.9 µm","t":225,"v":-0.005},{"s":"0-0.9 µm","t":250,"v":-0.003},
{"s":"0.9-1.9 µm","t":-250,"v":-0.007},{"s":"0.9-1.9 µm","t":-225,"v":-0.003},{"s":"0.9-1.9 µm","t":-200,"v":-0.01},{"s":"0.9-1.9 µm","t":-175,"v":-0.017},{"s":"0.9-1.9 µm","t":-150,"v":-0.01},{"s":"0.9-1.9 µm","t":-125,"v":-0.015},{"s":"0.9-1.9 µm","t":-100,"v":-0.026},{"s":"0.9-1.9 µm","t":-75,"v":-0.041},{"s":"0.9-1.9 µm","t":-50,"v":-0.051},{"s":"0.9-1.9 µm","t":-30,"v":-0.041},{"s":"0.9-1.9 µm","t":-15,"v":-0.026},{"s":"0.9-1.9 µm","t":0,"v":0},{"s":"0.9-1.9 µm","t":15,"v":0.026},{"s":"0.9-1.9 µm","t":30,"v":0.034},{"s":"0.9-1.9 µm","t":50,"v":0.031},{"s":"0.9-1.9 µm","t":75,"v":0.028},{"s":"0.9-1.9 µm","t":100,"v":0.026},{"s":"0.9-1.9 µm","t":125,"v":0.02},{"s":"0.9-1.9 µm","t":150,"v":0.01},{"s":"0.9-1.9 µm","t":175,"v":0.003},{"s":"0.9-1.9 µm","t":200,"v":-0.015},{"s":"0.9-1.9 µm","t":225,"v":-0.007},{"s":"0.9-1.9 µm","t":250,"v":-0.003},
{"s":"2-2.8 µm","t":-250,"v":0},{"s":"2-2.8 µm","t":-225,"v":-0.007},{"s":"2-2.8 µm","t":-200,"v":-0.02},{"s":"2-2.8 µm","t":-175,"v":-0.031},{"s":"2-2.8 µm","t":-150,"v":-0.036},{"s":"2-2.8 µm","t":-125,"v":-0.036},{"s":"2-2.8 µm","t":-100,"v":-0.036},{"s":"2-2.8 µm","t":-75,"v":-0.036},{"s":"2-2.8 µm","t":-50,"v":-0.041},{"s":"2-2.8 µm","t":-30,"v":-0.036},{"s":"2-2.8 µm","t":-15,"v":-0.02},{"s":"2-2.8 µm","t":0,"v":-0.003},{"s":"2-2.8 µm","t":15,"v":0.01},{"s":"2-2.8 µm","t":30,"v":0.017},{"s":"2-2.8 µm","t":50,"v":0.02},{"s":"2-2.8 µm","t":75,"v":0.026},{"s":"2-2.8 µm","t":100,"v":0.023},{"s":"2-2.8 µm","t":125,"v":0.02},{"s":"2-2.8 µm","t":150,"v":0.015},{"s":"2-2.8 µm","t":175,"v":0.007},{"s":"2-2.8 µm","t":200,"v":0.003},{"s":"2-2.8 µm","t":225,"v":0.007},{"s":"2-2.8 µm","t":250,"v":0.017},
{"s":"2.8-3.7 µm","t":-250,"v":0.005},{"s":"2.8-3.7 µm","t":-225,"v":-0.005},{"s":"2.8-3.7 µm","t":-200,"v":-0.015},{"s":"2.8-3.7 µm","t":-175,"v":-0.023},{"s":"2.8-3.7 µm","t":-150,"v":-0.026},{"s":"2.8-3.7 µm","t":-125,"v":-0.028},{"s":"2.8-3.7 µm","t":-100,"v":-0.031},{"s":"2.8-3.7 µm","t":-75,"v":-0.028},{"s":"2.8-3.7 µm","t":-50,"v":-0.02},{"s":"2.8-3.7 µm","t":-30,"v":-0.01},{"s":"2.8-3.7 µm","t":-15,"v":-0.003},{"s":"2.8-3.7 µm","t":0,"v":0.003},{"s":"2.8-3.7 µm","t":15,"v":0.01},{"s":"2.8-3.7 µm","t":30,"v":0.013},{"s":"2.8-3.7 µm","t":50,"v":0.015},{"s":"2.8-3.7 µm","t":75,"v":0.02},{"s":"2.8-3.7 µm","t":100,"v":0.028},{"s":"2.8-3.7 µm","t":125,"v":0.031},{"s":"2.8-3.7 µm","t":150,"v":0.017},{"s":"2.8-3.7 µm","t":175,"v":0.003},{"s":"2.8-3.7 µm","t":200,"v":-0.013},{"s":"2.8-3.7 µm","t":225,"v":-0.007},{"s":"2.8-3.7 µm","t":250,"v":-0.003},
{"s":"3.7-4.6 µm","t":-250,"v":0},{"s":"3.7-4.6 µm","t":-225,"v":-0.003},{"s":"3.7-4.6 µm","t":-200,"v":-0.007},{"s":"3.7-4.6 µm","t":-175,"v":-0.01},{"s":"3.7-4.6 µm","t":-150,"v":-0.013},{"s":"3.7-4.6 µm","t":-125,"v":-0.015},{"s":"3.7-4.6 µm","t":-100,"v":-0.02},{"s":"3.7-4.6 µm","t":-75,"v":-0.026},{"s":"3.7-4.6 µm","t":-50,"v":-0.036},{"s":"3.7-4.6 µm","t":-30,"v":-0.028},{"s":"3.7-4.6 µm","t":-15,"v":-0.015},{"s":"3.7-4.6 µm","t":0,"v":0},{"s":"3.7-4.6 µm","t":15,"v":0.015},{"s":"3.7-4.6 µm","t":30,"v":0.017},{"s":"3.7-4.6 µm","t":50,"v":0.015},{"s":"3.7-4.6 µm","t":75,"v":0.01},{"s":"3.7-4.6 µm","t":100,"v":0.007},{"s":"3.7-4.6 µm","t":125,"v":0.003},{"s":"3.7-4.6 µm","t":150,"v":0.003},{"s":"3.7-4.6 µm","t":175,"v":0.003},{"s":"3.7-4.6 µm","t":200,"v":0},{"s":"3.7-4.6 µm","t":225,"v":0.003},{"s":"3.7-4.6 µm","t":250,"v":0.003},
{"s":"4.6-5.6 µm","t":-250,"v":-0.003},{"s":"4.6-5.6 µm","t":-225,"v":0.003},{"s":"4.6-5.6 µm","t":-200,"v":0},{"s":"4.6-5.6 µm","t":-175,"v":-0.013},{"s":"4.6-5.6 µm","t":-150,"v":-0.01},{"s":"4.6-5.6 µm","t":-125,"v":-0.003},{"s":"4.6-5.6 µm","t":-100,"v":-0.007},{"s":"4.6-5.6 µm","t":-75,"v":-0.015},{"s":"4.6-5.6 µm","t":-50,"v":-0.02},{"s":"4.6-5.6 µm","t":-30,"v":-0.015},{"s":"4.6-5.6 µm","t":-15,"v":-0.005},{"s":"4.6-5.6 µm","t":0,"v":0.003},{"s":"4.6-5.6 µm","t":15,"v":0.01},{"s":"4.6-5.6 µm","t":30,"v":0.003},{"s":"4.6-5.6 µm","t":50,"v":-0.005},{"s":"4.6-5.6 µm","t":75,"v":-0.015},{"s":"4.6-5.6 µm","t":100,"v":-0.01},{"s":"4.6-5.6 µm","t":125,"v":-0.003},{"s":"4.6-5.6 µm","t":150,"v":0.003},{"s":"4.6-5.6 µm","t":175,"v":0.003},{"s":"4.6-5.6 µm","t":200,"v":0.003},{"s":"4.6-5.6 µm","t":225,"v":0.003},{"s":"4.6-5.6 µm","t":250,"v":0.003},
{"s":"p=0.05 upper","t":-250,"v":0.178},{"s":"p=0.05 upper","t":250,"v":0.178},{"s":"p=0.05 lower","t":-250,"v":-0.178},{"s":"p=0.05 lower","t":250,"v":-0.178}
],
"gA":[
{"g":"dash","t":-250,"v":0.03},{"g":"dash","t":-200,"v":0.02},{"g":"dash","t":-150,"v":0.018},{"g":"dash","t":-100,"v":0.045},{"g":"dash","t":-50,"v":0.13},{"g":"dash","t":-30,"v":0.15},{"g":"dash","t":-15,"v":0.12},{"g":"dash","t":0,"v":0.01},{"g":"dash","t":15,"v":-0.07},{"g":"dash","t":30,"v":-0.11},{"g":"dash","t":50,"v":-0.125},{"g":"dash","t":75,"v":-0.1},{"g":"dash","t":100,"v":-0.06},{"g":"dash","t":150,"v":0.01},{"g":"dash","t":200,"v":0.04},{"g":"dash","t":250,"v":0.03},
{"g":"dot","t":-250,"v":-0.01},{"g":"dot","t":-200,"v":-0.01},{"g":"dot","t":-150,"v":0},{"g":"dot","t":-100,"v":0.02},{"g":"dot","t":-50,"v":0.1},{"g":"dot","t":-30,"v":0.11},{"g":"dot","t":-15,"v":0.08},{"g":"dot","t":0,"v":-0.01},{"g":"dot","t":15,"v":-0.13},{"g":"dot","t":30,"v":-0.17},{"g":"dot","t":50,"v":-0.155},{"g":"dot","t":75,"v":-0.1},{"g":"dot","t":100,"v":-0.05},{"g":"dot","t":150,"v":-0.015},{"g":"dot","t":200,"v":-0.01},{"g":"dot","t":250,"v":-0.01}
],
"gB":[
{"g":"dash","t":-250,"v":0},{"g":"dash","t":-200,"v":0.01},{"g":"dash","t":-150,"v":0.05},{"g":"dash","t":-100,"v":0.07},{"g":"dash","t":-50,"v":0.13},{"g":"dash","t":-30,"v":0.17},{"g":"dash","t":-15,"v":0.14},{"g":"dash","t":0,"v":0.05},{"g":"dash","t":15,"v":-0.05},{"g":"dash","t":30,"v":-0.11},{"g":"dash","t":50,"v":-0.16},{"g":"dash","t":75,"v":-0.14},{"g":"dash","t":100,"v":-0.11},{"g":"dash","t":150,"v":-0.07},{"g":"dash","t":200,"v":-0.035},{"g":"dash","t":250,"v":0.005},
{"g":"dot","t":-250,"v":0.015},{"g":"dot","t":-200,"v":0.03},{"g":"dot","t":-150,"v":0.06},{"g":"dot","t":-100,"v":0.065},{"g":"dot","t":-50,"v":0.1},{"g":"dot","t":-30,"v":0.1},{"g":"dot","t":-15,"v":0.06},{"g":"dot","t":0,"v":-0.02},{"g":"dot","t":15,"v":-0.1},{"g":"dot","t":30,"v":-0.14},{"g":"dot","t":50,"v":-0.14},{"g":"dot","t":75,"v":-0.11},{"g":"dot","t":100,"v":-0.08},{"g":"dot","t":150,"v":-0.04},{"g":"dot","t":200,"v":-0.01},{"g":"dot","t":250,"v":0.01}
],
"gC":[
{"g":"dash","t":-250,"v":0.05},{"g":"dash","t":-200,"v":0.08},{"g":"dash","t":-150,"v":0.095},{"g":"dash","t":-100,"v":0.115},{"g":"dash","t":-50,"v":0.145},{"g":"dash","t":-30,"v":0.13},{"g":"dash","t":-15,"v":0.1},{"g":"dash","t":0,"v":0.03},{"g":"dash","t":15,"v":-0.01},{"g":"dash","t":30,"v":-0.02},{"g":"dash","t":50,"v":-0.03},{"g":"dash","t":75,"v":-0.035},{"g":"dash","t":100,"v":-0.04},{"g":"dash","t":150,"v":-0.03},{"g":"dash","t":200,"v":-0.02},{"g":"dash","t":250,"v":-0.015},
{"g":"dot","t":-250,"v":0.02},{"g":"dot","t":-200,"v":0.035},{"g":"dot","t":-150,"v":0.05},{"g":"dot","t":-100,"v":0.06},{"g":"dot","t":-50,"v":0.08},{"g":"dot","t":-30,"v":0.08},{"g":"dot","t":-15,"v":0.04},{"g":"dot","t":0,"v":-0.03},{"g":"dot","t":15,"v":-0.055},{"g":"dot","t":30,"v":-0.06},{"g":"dot","t":50,"v":-0.07},{"g":"dot","t":75,"v":-0.075},{"g":"dot","t":100,"v":-0.075},{"g":"dot","t":150,"v":-0.065},{"g":"dot","t":200,"v":-0.055},{"g":"dot","t":250,"v":-0.05}
],
"gD":[
{"g":"dash","t":-250,"v":0.005},{"g":"dash","t":-200,"v":0.03},{"g":"dash","t":-150,"v":0.09},{"g":"dash","t":-100,"v":0.13},{"g":"dash","t":-50,"v":0.13},{"g":"dash","t":-30,"v":0.12},{"g":"dash","t":-15,"v":0.08},{"g":"dash","t":0,"v":0.03},{"g":"dash","t":15,"v":-0.03},{"g":"dash","t":30,"v":-0.05},{"g":"dash","t":50,"v":-0.045},{"g":"dash","t":75,"v":-0.06},{"g":"dash","t":100,"v":-0.05},{"g":"dash","t":150,"v":0},{"g":"dash","t":200,"v":0.015},{"g":"dash","t":250,"v":0.01},
{"g":"dot","t":-250,"v":0.05},{"g":"dot","t":-200,"v":0.06},{"g":"dot","t":-150,"v":0.1},{"g":"dot","t":-100,"v":0.14},{"g":"dot","t":-50,"v":0.12},{"g":"dot","t":-30,"v":0.08},{"g":"dot","t":-15,"v":0.04},{"g":"dot","t":0,"v":-0.04},{"g":"dot","t":15,"v":-0.09},{"g":"dot","t":30,"v":-0.1},{"g":"dot","t":50,"v":-0.11},{"g":"dot","t":75,"v":-0.12},{"g":"dot","t":100,"v":-0.115},{"g":"dot","t":150,"v":-0.08},{"g":"dot","t":200,"v":-0.04},{"g":"dot","t":250,"v":-0.03}
],
"gE":[
{"g":"dash","t":-250,"v":0.02},{"g":"dash","t":-200,"v":0.02},{"g":"dash","t":-150,"v":0},{"g":"dash","t":-100,"v":-0.04},{"g":"dash","t":-50,"v":-0.055},{"g":"dash","t":-30,"v":-0.095},{"g":"dash","t":-15,"v":-0.06},{"g":"dash","t":0,"v":0.005},{"g":"dash","t":15,"v":0.13},{"g":"dash","t":30,"v":0.155},{"g":"dash","t":50,"v":0.125},{"g":"dash","t":75,"v":0.095},{"g":"dash","t":100,"v":0.08},{"g":"dash","t":150,"v":0.03},{"g":"dash","t":200,"v":0.035},{"g":"dash","t":250,"v":0.04},
{"g":"dot","t":-250,"v":-0.01},{"g":"dot","t":-200,"v":0.03},{"g":"dot","t":-150,"v":0.02},{"g":"dot","t":-100,"v":-0.075},{"g":"dot","t":-50,"v":-0.095},{"g":"dot","t":-30,"v":-0.135},{"g":"dot","t":-15,"v":-0.09},{"g":"dot","t":0,"v":-0.005},{"g":"dot","t":15,"v":0.1},{"g":"dot","t":30,"v":0.12},{"g":"dot","t":50,"v":0.09},{"g":"dot","t":75,"v":0.06},{"g":"dot","t":100,"v":0.05},{"g":"dot","t":150,"v":0},{"g":"dot","t":200,"v":0},{"g":"dot","t":250,"v":0.005}
],
"gF":[
{"g":"dash","t":-250,"v":0.025},{"g":"dash","t":-200,"v":0.01},{"g":"dash","t":-150,"v":-0.01},{"g":"dash","t":-100,"v":-0.01},{"g":"dash","t":-50,"v":-0.03},{"g":"dash","t":-30,"v":-0.065},{"g":"dash","t":-15,"v":-0.04},{"g":"dash","t":0,"v":0.01},{"g":"dash","t":15,"v":0.11},{"g":"dash","t":30,"v":0.12},{"g":"dash","t":50,"v":0.07},{"g":"dash","t":75,"v":0.04},{"g":"dash","t":100,"v":0.035},{"g":"dash","t":150,"v":0.025},{"g":"dash","t":200,"v":0.01},{"g":"dash","t":250,"v":0.02},
{"g":"dot","t":-250,"v":-0.01},{"g":"dot","t":-200,"v":-0.02},{"g":"dot","t":-150,"v":-0.04},{"g":"dot","t":-100,"v":-0.045},{"g":"dot","t":-50,"v":-0.06},{"g":"dot","t":-30,"v":-0.1},{"g":"dot","t":-15,"v":-0.09},{"g":"dot","t":0,"v":-0.01},{"g":"dot","t":15,"v":0.08},{"g":"dot","t":30,"v":0.085},{"g":"dot","t":50,"v":0.04},{"g":"dot","t":75,"v":0.035},{"g":"dot","t":100,"v":0.04},{"g":"dot","t":150,"v":0.035},{"g":"dot","t":200,"v":0.03},{"g":"dot","t":250,"v":0.04}
]
},
"columns":3,
"spacing":{"column":164,"row":136},
"bounds":"flush",
"resolve":{"scale":{"color":"independent","strokeDash":"independent"}},
"concat":[
{"width":246,"height":164,"title":{"text":"RhoA","fontSize":28,"dx":6,"offset":7},
 "layer":[
  {"data":{"name":"gA"},"mark":{"type":"line","color":"#c2c2c2","strokeWidth":1.2,"interpolate":"monotone"},
   "encoding":{"x":{"field":"t","type":"quantitative","scale":{"domain":[-250,250],"nice":false,"zero":false},"axis":{"orient":"top","title":"siN Control","domain":false,"ticks":false,"labels":false,"titleFontSize":15,"titleColor":"#000","titleBaseline":"alphabetic","titleY":-17}},
    "y":{"field":"v","type":"quantitative","scale":{"domain":[-0.25,0.25],"nice":false},"axis":{"orient":"right","title":"A","domain":false,"ticks":false,"labels":false,"titleFontSize":24,"titleColor":"#000","titleAngle":0,"titleAlign":"left","titleBaseline":"alphabetic","titleX":-273,"titleY":-55}},
    "detail":{"field":"g","type":"nominal"},"strokeDash":{"field":"g","type":"nominal","scale":{"domain":["dash","dot"],"range":[[5,3],[1.5,2.5]]},"legend":null}}},
  {"data":{"name":"A"},"mark":{"type":"line","strokeWidth":1.6,"interpolate":"monotone"},
   "encoding":{"x":{"field":"t","type":"quantitative","scale":{"domain":[-250,250],"nice":false,"zero":false},"axis":{"orient":"bottom","title":"Time Lag (sec)","values":[-250,-200,-150,-100,-50,50,100,150,200,250],"labelExpr":"''+datum.value","offset":-82,"titleY":99}},
    "y":{"field":"v","type":"quantitative","scale":{"domain":[-0.25,0.25],"nice":false},"axis":{"orient":"left","title":"Average Cross-Correlation Coefficient","values":[-0.2,-0.1,0.1,0.2],"labelExpr":"''+datum.value","offset":-123,"titleX":-148}},
    "color":{"field":"s","type":"nominal","scale":{"domain":["0-0.9 µm","0.9-1.9 µm","2-2.8 µm","2.8-3.7 µm","3.7-4.6 µm","4.6-5.6 µm","p=0.05 upper","p=0.05 lower"],"range":["#2f55e8","#e8412c","#45d43f","#c25ee6","#eea334","#141414","#b38a48","#2d3d9c"]},"legend":{"title":null,"labelExpr":"indexof(datum.label,'p=0.05')==0 ? 'p=0.05' : datum.label"}}}}
 ]},
{"width":246,"height":164,"title":{"text":"Rac1","fontSize":28,"dx":-2,"offset":7},
 "layer":[
  {"data":{"name":"gC"},"mark":{"type":"line","color":"#c2c2c2","strokeWidth":1.2,"interpolate":"monotone"},
   "encoding":{"x":{"field":"t","type":"quantitative","scale":{"domain":[-250,250],"nice":false,"zero":false},"axis":{"orient":"top","title":"siN Control","domain":false,"ticks":false,"labels":false,"titleFontSize":15,"titleColor":"#000","titleBaseline":"alphabetic","titleY":-18}},
    "y":{"field":"v","type":"quantitative","scale":{"domain":[-0.25,0.25],"nice":false},"axis":{"orient":"right","title":"C","domain":false,"ticks":false,"labels":false,"titleFontSize":24,"titleColor":"#000","titleAngle":0,"titleAlign":"left","titleBaseline":"alphabetic","titleX":-281,"titleY":-55}},
    "detail":{"field":"g","type":"nominal"},"strokeDash":{"field":"g","type":"nominal","scale":{"domain":["dash","dot"],"range":[[5,3],[1.5,2.5]]},"legend":null}}},
  {"data":{"name":"C"},"mark":{"type":"line","strokeWidth":1.6,"interpolate":"monotone"},
   "encoding":{"x":{"field":"t","type":"quantitative","scale":{"domain":[-250,250],"nice":false,"zero":false},"axis":{"orient":"bottom","title":"Time Lag (sec)","values":[-250,-200,-150,-100,-50,50,100,150,200,250],"labelExpr":"''+datum.value","offset":-82,"titleY":99}},
    "y":{"field":"v","type":"quantitative","scale":{"domain":[-0.25,0.25],"nice":false},"axis":{"orient":"left","title":"Avg. Cross-Corr. Coeff.","titleFontSize":13,"values":[-0.2,-0.1,0.1,0.2],"labelExpr":"''+datum.value","offset":-123,"titleX":-149}},
    "color":{"field":"s","type":"nominal","scale":{"domain":["0-0.9 µm","0.9-1.9 µm","2-2.8 µm","2.8-3.7 µm","3.7-4.6 µm","4.6-5.6 µm","p=0.05 upper","p=0.05 lower"],"range":["#2f55e8","#e8412c","#45d43f","#c25ee6","#eea334","#141414","#b38a48","#2d3d9c"]},"legend":{"title":null,"labelExpr":"indexof(datum.label,'p=0.05')==0 ? 'p=0.05' : datum.label"}}}}
 ]},
{"width":246,"height":164,"title":{"text":"GEF-H1","fontSize":28,"dx":-4,"offset":7},
 "layer":[
  {"data":{"name":"gE"},"mark":{"type":"line","color":"#c2c2c2","strokeWidth":1.2,"interpolate":"monotone"},
   "encoding":{"x":{"field":"t","type":"quantitative","scale":{"domain":[-250,250],"nice":false,"zero":false},"axis":{"orient":"top","title":"siN Control","domain":false,"ticks":false,"labels":false,"titleFontSize":15,"titleColor":"#000","titleBaseline":"alphabetic","titleY":-18}},
    "y":{"field":"v","type":"quantitative","scale":{"domain":[-0.25,0.25],"nice":false},"axis":{"orient":"right","title":"E","domain":false,"ticks":false,"labels":false,"titleFontSize":24,"titleColor":"#000","titleAngle":0,"titleAlign":"left","titleBaseline":"alphabetic","titleX":-281,"titleY":-55}},
    "detail":{"field":"g","type":"nominal"},"strokeDash":{"field":"g","type":"nominal","scale":{"domain":["dash","dot"],"range":[[5,3],[1.5,2.5]]},"legend":null}}},
  {"data":{"name":"E"},"mark":{"type":"line","strokeWidth":1.6,"interpolate":"monotone"},
   "encoding":{"x":{"field":"t","type":"quantitative","scale":{"domain":[-250,250],"nice":false,"zero":false},"axis":{"orient":"bottom","title":"Time lag (sec)","values":[-250,-200,-150,-100,-50,50,100,150,200,250],"labelExpr":"''+datum.value","offset":-82,"titleY":95}},
    "y":{"field":"v","type":"quantitative","scale":{"domain":[-0.25,0.25],"nice":false},"axis":{"orient":"left","title":"Avg. Cross-Corr. Coeff.","titleFontSize":13,"values":[-0.2,-0.1,0.1,0.2],"labelExpr":"''+datum.value","offset":-123,"titleX":-137}},
    "color":{"field":"s","type":"nominal","scale":{"domain":["0-0.9 µm","0.9-1.9 µm","2-2.8 µm","2.8-3.7 µm","3.7-4.6 µm","4.6-5.6 µm","p=0.05 upper","p=0.05 lower"],"range":["#2f55e8","#e8412c","#45d43f","#c25ee6","#eea334","#141414","#b38a48","#2d3d9c"]},"legend":{"title":null,"labelExpr":"indexof(datum.label,'p=0.05')==0 ? 'p=0.05' : datum.label"}}}}
 ]},
{"width":246,"height":164,"title":{"text":"B","fontSize":24,"anchor":"start","dx":-25,"offset":7},
 "layer":[
  {"data":{"name":"gB"},"mark":{"type":"line","color":"#c2c2c2","strokeWidth":1.2,"interpolate":"monotone"},
   "encoding":{"x":{"field":"t","type":"quantitative","scale":{"domain":[-250,250],"nice":false,"zero":false},"axis":{"orient":"top","title":"siFL2","domain":false,"ticks":false,"labels":false,"titleFontSize":15,"titleColor":"#000","titleBaseline":"alphabetic","titleY":-13}},
    "y":{"field":"v","type":"quantitative","scale":{"domain":[-0.25,0.25],"nice":false},"axis":{"orient":"left","title":"Avg. Cross-Corr. Coeff.","titleFontSize":13,"values":[-0.2,-0.1,0.1,0.2],"labelExpr":"''+datum.value","offset":-123,"titleX":-138}},
    "detail":{"field":"g","type":"nominal"},"strokeDash":{"field":"g","type":"nominal","scale":{"domain":["dash","dot"],"range":[[5,3],[1.5,2.5]]},"legend":null}}},
  {"data":{"name":"B"},"mark":{"type":"line","strokeWidth":1.6,"interpolate":"monotone"},
   "encoding":{"x":{"field":"t","type":"quantitative","scale":{"domain":[-250,250],"nice":false,"zero":false},"axis":{"orient":"bottom","title":"Time Lag (sec)","values":[-250,-200,-150,-100,-50,50,100,150,200,250],"labelExpr":"''+datum.value","offset":-82,"titleY":93}},
    "y":{"field":"v","type":"quantitative","scale":{"domain":[-0.25,0.25],"nice":false},"axis":{"orient":"left","title":"Avg. Cross-Corr. Coeff.","titleFontSize":13,"values":[-0.2,-0.1,0.1,0.2],"labelExpr":"''+datum.value","offset":-123,"titleX":-138}},
    "color":{"field":"s","type":"nominal","scale":{"domain":["0-0.9 µm","0.9-1.9 µm","2-2.8 µm","2.8-3.7 µm","3.7-4.6 µm","4.6-5.6 µm","p=0.05 upper","p=0.05 lower"],"range":["#2f55e8","#e8412c","#45d43f","#c25ee6","#eea334","#141414","#b38a48","#2d3d9c"]},"legend":{"title":null,"labelExpr":"indexof(datum.label,'p=0.05')==0 ? 'p=0.05' : datum.label"}}}}
 ]},
{"width":246,"height":164,"title":{"text":"D","fontSize":24,"anchor":"start","dx":-34,"offset":2},
 "layer":[
  {"data":{"name":"gD"},"mark":{"type":"line","color":"#c2c2c2","strokeWidth":1.2,"interpolate":"monotone"},
   "encoding":{"x":{"field":"t","type":"quantitative","scale":{"domain":[-250,250],"nice":false,"zero":false},"axis":{"orient":"top","title":"siFL2","domain":false,"ticks":false,"labels":false,"titleFontSize":15,"titleColor":"#000","titleBaseline":"alphabetic","titleY":-16}},
    "y":{"field":"v","type":"quantitative","scale":{"domain":[-0.25,0.25],"nice":false},"axis":{"orient":"left","title":"Avg. Cross-Corr. Coeff.","titleFontSize":13,"values":[-0.2,-0.1,0.1,0.2],"labelExpr":"''+datum.value","offset":-123,"titleX":-148}},
    "detail":{"field":"g","type":"nominal"},"strokeDash":{"field":"g","type":"nominal","scale":{"domain":["dash","dot"],"range":[[5,3],[1.5,2.5]]},"legend":null}}},
  {"data":{"name":"D"},"mark":{"type":"line","strokeWidth":1.6,"interpolate":"monotone"},
   "encoding":{"x":{"field":"t","type":"quantitative","scale":{"domain":[-250,250],"nice":false,"zero":false},"axis":{"orient":"bottom","title":"Time Lag (sec)","values":[-250,-200,-150,-100,-50,50,100,150,200,250],"labelExpr":"''+datum.value","offset":-82,"titleY":95}},
    "y":{"field":"v","type":"quantitative","scale":{"domain":[-0.25,0.25],"nice":false},"axis":{"orient":"left","title":"Avg. Cross-Corr. Coeff.","titleFontSize":13,"values":[-0.2,-0.1,0.1,0.2],"labelExpr":"''+datum.value","offset":-123,"titleX":-148}},
    "color":{"field":"s","type":"nominal","scale":{"domain":["0-0.9 µm","0.9-1.9 µm","2-2.8 µm","2.8-3.7 µm","3.7-4.6 µm","4.6-5.6 µm","p=0.05 upper","p=0.05 lower"],"range":["#2f55e8","#e8412c","#45d43f","#c25ee6","#eea334","#141414","#b38a48","#2d3d9c"]},"legend":{"title":null,"labelExpr":"indexof(datum.label,'p=0.05')==0 ? 'p=0.05' : datum.label"}}}}
 ]},
{"width":246,"height":164,"title":{"text":"F","fontSize":24,"anchor":"start","dx":-31,"offset":2},
 "layer":[
  {"data":{"name":"gF"},"mark":{"type":"line","color":"#c2c2c2","strokeWidth":1.2,"interpolate":"monotone"},
   "encoding":{"x":{"field":"t","type":"quantitative","scale":{"domain":[-250,250],"nice":false,"zero":false},"axis":{"orient":"top","title":"siFL2","domain":false,"ticks":false,"labels":false,"titleFontSize":15,"titleColor":"#000","titleBaseline":"alphabetic","titleY":-16}},
    "y":{"field":"v","type":"quantitative","scale":{"domain":[-0.25,0.25],"nice":false},"axis":{"orient":"left","title":"Avg. Cross-Corr. Coeff.","titleFontSize":13,"values":[-0.2,-0.1,0.1,0.2],"labelExpr":"''+datum.value","offset":-123,"titleX":-143}},
    "detail":{"field":"g","type":"nominal"},"strokeDash":{"field":"g","type":"nominal","scale":{"domain":["dash","dot"],"range":[[5,3],[1.5,2.5]]},"legend":null}}},
  {"data":{"name":"F"},"mark":{"type":"line","strokeWidth":1.6,"interpolate":"monotone"},
   "encoding":{"x":{"field":"t","type":"quantitative","scale":{"domain":[-250,250],"nice":false,"zero":false},"axis":{"orient":"bottom","title":"Time lag (sec)","values":[-250,-200,-150,-100,-50,50,100,150,200,250],"labelExpr":"''+datum.value","offset":-82,"titleY":100}},
    "y":{"field":"v","type":"quantitative","scale":{"domain":[-0.25,0.25],"nice":false},"axis":{"orient":"left","title":"Avg. Cross-Corr. Coeff.","titleFontSize":13,"values":[-0.2,-0.1,0.1,0.2],"labelExpr":"''+datum.value","offset":-123,"titleX":-143}},
    "color":{"field":"s","type":"nominal","scale":{"domain":["0-0.9 µm","0.9-1.9 µm","2-2.8 µm","2.8-3.7 µm","3.7-4.6 µm","4.6-5.6 µm","p=0.05 upper","p=0.05 lower"],"range":["#2f55e8","#e8412c","#45d43f","#c25ee6","#eea334","#141414","#b38a48","#2d3d9c"]},"legend":{"title":null,"labelExpr":"indexof(datum.label,'p=0.05')==0 ? 'p=0.05' : datum.label"}}}}
 ]}
]
}
